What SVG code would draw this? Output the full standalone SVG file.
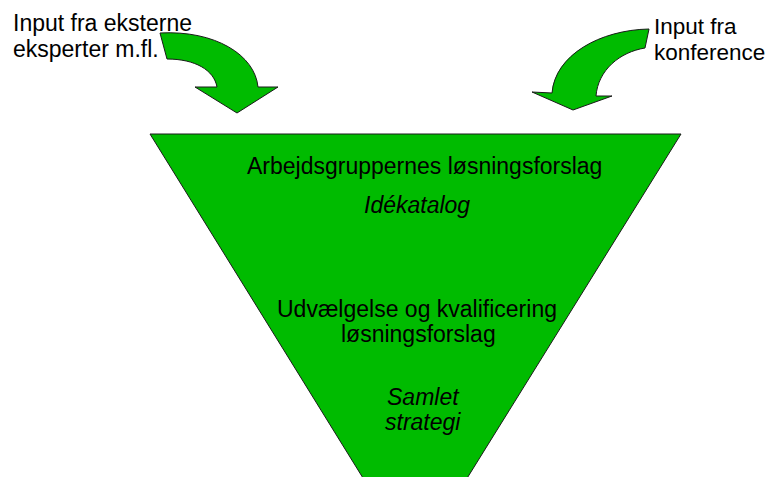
<svg xmlns="http://www.w3.org/2000/svg" width="769" height="477" viewBox="0 0 769 477">
<style>
.shape{fill:#00bb00;stroke:#1a1a1a;stroke-width:1}
.t{font-family:"Liberation Sans",Arial,sans-serif;font-size:23px;fill:#000}
.i{font-style:italic}
</style>
<rect width="769" height="477" fill="#fff"/>
<g id="funnel">
<polygon class="shape" points="150,134 681,134 415,562"/>
<text class="t" x="247" y="174">Arbejdsgruppernes løsningsforslag</text>
<text class="t i" x="364" y="213">Idékatalog</text>
<text class="t" x="277" y="317">Udvælgelse og kvalificering</text>
<text class="t" x="341" y="342">løsningsforslag</text>
<text class="t i" x="387" y="405">Samlet</text>
<text class="t i" x="385" y="430">strategi</text>
</g>
<g id="input-left">
<text class="t" x="13" y="31">Input fra eksterne</text>
<text class="t" x="13" y="57">eksperter m.fl.</text>
</g>
<g id="input-right">
<text class="t" x="654" y="34" style="font-size:22.5px">Input fra</text>
<text class="t" x="654" y="60" style="font-size:22.5px">konference</text>
</g>
<g id="connectors">
<path class="shape" d="M160,33 C215,30 255,55 258,87 L278,87 L237,113 L195,87 L217,87 C214,70 195,59 167,59 Z"/>
<path class="shape" d="M649,29 C600,30 555,55 552,93 L532,92 L573,110 L612,96 L596,96 C598,70 620,52 645,48 Z"/>
</g>
</svg>
